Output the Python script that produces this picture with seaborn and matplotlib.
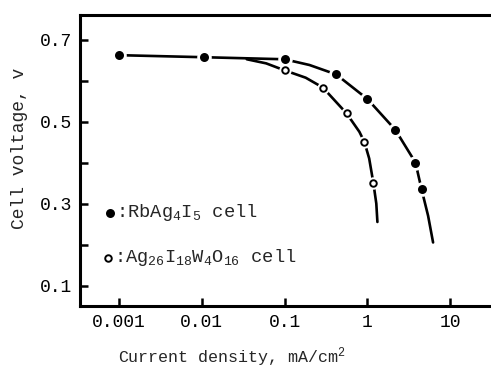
import numpy as np
import pandas as pd
import matplotlib
matplotlib.use('Agg')
import matplotlib.pyplot as plt
import seaborn as sns

# measured points
rb_current = [0.001, 0.0106, 0.1, 0.42, 1.0, 2.17, 3.8, 4.5]
rb_voltage = [0.662, 0.657, 0.652, 0.615, 0.555, 0.48, 0.40, 0.335]
ag_current = [0.1, 0.29, 0.56, 0.92, 1.18]
ag_voltage = [0.625, 0.583, 0.52, 0.45, 0.35]

# drawn fit curves
rb_curve_x = [0.001, 0.0106, 0.1, 0.2, 0.42, 1.0, 2.17, 3.8, 4.5, 5.4, 6.2]
rb_curve_y = [0.662, 0.657, 0.652, 0.638, 0.615, 0.555, 0.48, 0.40, 0.335, 0.27, 0.205]
ag_curve_x = [0.035, 0.06, 0.1, 0.18, 0.29, 0.56, 0.8, 0.92, 1.05, 1.18, 1.28, 1.32]
ag_curve_y = [0.652, 0.642, 0.625, 0.607, 0.583, 0.52, 0.475, 0.45, 0.41, 0.35, 0.30, 0.255]

xticks = [0.001, 0.01, 0.1, 1, 10]
xticklabels = ['0.001', '0.01', '0.1', '1', '10']
yticks = [0.1, 0.3, 0.5, 0.7]

sns.set_style('ticks')
plt.rcParams['font.family'] = ['Liberation Mono', 'DejaVu Sans Mono']
plt.rcParams['mathtext.fontset'] = 'custom'
plt.rcParams['mathtext.rm'] = 'Liberation Mono'
plt.rcParams['mathtext.it'] = 'Liberation Mono'
plt.rcParams['mathtext.default'] = 'rm'

fig = plt.figure(figsize=(4.91, 3.70), dpi=100)
ax = fig.add_axes([80/491, 1 - 306/370, 1 - 80/491, (306 - 15)/370])

rb_line = pd.DataFrame({'x': rb_curve_x, 'y': rb_curve_y})
ag_line = pd.DataFrame({'x': ag_curve_x, 'y': ag_curve_y})
sns.lineplot(data=rb_line, x='x', y='y', ax=ax, color='black', lw=1.9, sort=False)
sns.lineplot(data=ag_line, x='x', y='y', ax=ax, color='black', lw=1.9, sort=False)

# white halos make the small gaps around each point
ax.scatter(rb_current, rb_voltage, s=110, color='white', zorder=3, lw=0)
ax.scatter(ag_current, ag_voltage, s=80, color='white', zorder=3, lw=0)
ax.scatter(rb_current, rb_voltage, s=42, color='black', zorder=4, lw=0)
ax.scatter(ag_current, ag_voltage, s=22, facecolor='white', edgecolor='black',
           lw=1.4, zorder=4)

ax.set_xscale('log')
ax.set_xlim(0.00034, 31)
ax.set_ylim(0.05, 0.76)
ax.set_xticks(xticks)
ax.set_xticklabels(xticklabels)
ax.minorticks_off()
ax.set_yticks(yticks)
ax.set_yticklabels([f'{v:.1f}' for v in yticks])
ax.set_yticks([0.2, 0.4, 0.6], minor=True)
ax.tick_params(axis='both', which='both', direction='in', length=6, width=1.8,
               labelsize=13, colors='black', pad=6)
ax.set_xlabel('')
ax.set_ylabel('')
for side in ['left', 'bottom', 'top']:
    ax.spines[side].set_linewidth(2.2)
    ax.spines[side].set_color('black')
ax.spines['right'].set_visible(False)

# key
ax.scatter([0.073], [0.32], s=42, color='black', transform=ax.transAxes, lw=0, clip_on=False)
ax.scatter([0.068], [0.165], s=22, facecolor='white', edgecolor='black', lw=1.4,
           transform=ax.transAxes, clip_on=False)
ax.text(0.088, 0.32, ':RbAg$_4$I$_5$ cell', transform=ax.transAxes, fontsize=13.5,
        va='center', ha='left')
ax.text(0.083, 0.165, ':Ag$_{26}$I$_{18}$W$_4$O$_{16}$ cell', transform=ax.transAxes,
        fontsize=13.5, va='center', ha='left')

fig.text(232/491, 1 - 357/370, 'Current density, mA/cm$^2$', fontsize=12,
         ha='center', va='center')
fig.text(20/491, 1 - 148/370, 'Cell voltage, v', fontsize=13, rotation=90,
         ha='center', va='center')

fig.savefig('out.png', dpi=100)
